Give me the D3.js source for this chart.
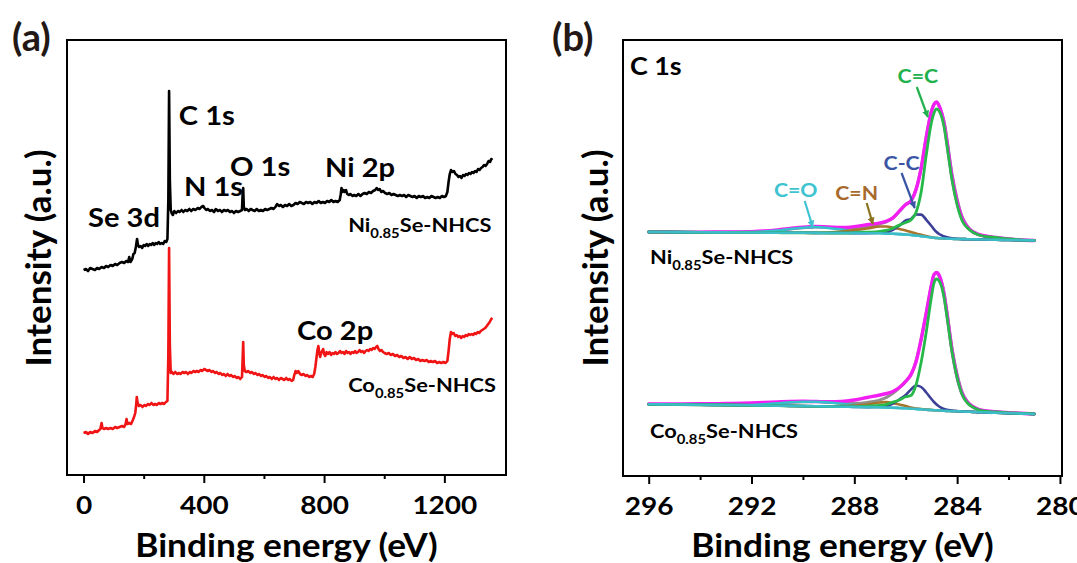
<!DOCTYPE html>
<html>
<head>
<meta charset="utf-8">
<script src="https://cdn.jsdelivr.net/npm/d3@7"></script>
<style>
  body { margin: 0; background: #fff; }
  svg { display: block; }
  text { font-family: Lato, "Open Sans", sans-serif; font-weight: 700; }
</style>
</head>
<body>
<svg id="fig" width="1077" height="563"></svg>
<script>
// ---------- (a) XPS survey spectra: [binding energy (eV), intensity (a.u.)] ----------
const surveyNi = [[0,205],[8,206],[15,204],[22,207],[30,206],[38,205],[45,207],[52,206],[60,208],[68,207],[75,209],[82,208],[90,210],[97,209],[105,211],[112,210],[120,212],[128,213],[135,212],[142,214],[148,213],[152,218],[156,213],[162,216],[166,221],[170,222],[174,228],[178,236],[181,230],[185,228],[190,229],[195,227],[200,230],[205,229],[210,231],[215,229],[220,231],[225,230],[230,232],[235,230],[240,232],[245,231],[250,233],[255,231],[260,232],[265,231],[270,234],[275,233],[279,236],[282,275],[284.5,384],[287,295],[290,265],[293,262],[297,260],[302,264],[308,262],[314,264],[320,263],[326,265],[332,263],[338,265],[345,264],[352,266],[358,264],[365,266],[372,265],[380,267],[386,266],[392,268],[398,269],[402,267],[408,265],[414,266],[420,264],[427,265],[434,263],[440,266],[447,264],[454,265],[460,263],[467,265],[474,264],[480,265],[487,263],[494,264],[500,262],[507,264],[514,263],[521,264],[527,265],[529,280],[531,287],[533,268],[537,265],[543,266],[549,264],[556,266],[562,265],[569,264],[576,266],[583,264],[590,265],[597,264],[604,266],[611,265],[618,266],[625,267],[632,266],[638,268],[644,271],[650,269],[656,270],[663,268],[670,270],[677,269],[684,271],[691,269],[698,270],[705,272],[712,271],[719,273],[726,272],[733,271],[740,273],[747,272],[754,273],[761,271],[768,273],[775,272],[782,274],[789,272],[796,273],[803,272],[810,274],[817,273],[824,275],[831,273],[838,274],[845,273],[852,275],[855,280],[858,287],[861,283],[865,285],[869,283],[873,285],[877,281],[882,280],[888,281],[894,279],[900,280],[907,279],[914,281],[921,279],[928,281],[935,282],[942,281],[949,283],[956,282],[963,284],[970,285],[975,287],[980,285],[985,286],[990,283],[996,284],[1003,282],[1010,281],[1017,282],[1024,280],[1031,281],[1038,280],[1045,279],[1052,280],[1059,279],[1066,280],[1073,278],[1080,280],[1087,279],[1094,278],[1101,279],[1108,277],[1115,279],[1122,278],[1129,279],[1136,277],[1143,278],[1150,277],[1157,279],[1164,278],[1171,277],[1178,278],[1185,277],[1192,279],[1199,278],[1205,279],[1210,283],[1214,293],[1218,301],[1222,305],[1227,303],[1232,304],[1237,301],[1242,300],[1247,298],[1252,299],[1257,297],[1262,300],[1267,299],[1272,301],[1277,300],[1282,302],[1287,301],[1292,303],[1297,302],[1302,304],[1307,303],[1312,306],[1317,305],[1322,307],[1327,308],[1332,310],[1337,309],[1342,311],[1347,314],[1352,313],[1356,316],[1360,315]];

const surveyCo = [[0,42],[8,43],[15,41],[22,43],[30,42],[38,44],[45,43],[52,45],[56,46],[60,52],[63,47],[68,46],[75,47],[82,46],[90,47],[97,46],[105,48],[112,47],[120,48],[128,49],[135,48],[140,51],[143,56],[146,51],[152,52],[158,51],[164,55],[168,58],[172,62],[175,70],[177,78],[180,72],[184,69],[190,70],[196,68],[202,70],[208,69],[214,71],[220,70],[226,72],[232,70],[238,71],[244,70],[250,72],[256,71],[262,72],[268,71],[274,73],[279,74],[282,120],[284.5,227],[287,130],[290,102],[294,103],[299,101],[305,103],[311,101],[317,102],[323,101],[329,103],[335,102],[341,103],[347,101],[353,103],[359,102],[365,104],[371,103],[377,104],[383,103],[389,105],[395,104],[401,106],[407,105],[413,104],[419,105],[425,103],[431,104],[437,102],[443,103],[449,101],[455,102],[461,100],[467,101],[473,99],[479,101],[485,99],[491,100],[497,98],[503,99],[509,97],[515,98],[521,96],[527,98],[529,115],[531,133],[533,110],[536,104],[542,103],[548,104],[554,102],[560,103],[566,101],[572,102],[578,100],[584,101],[590,99],[596,100],[602,98],[608,99],[614,97],[620,98],[626,96],[632,98],[638,96],[644,97],[650,95],[656,97],[662,96],[668,95],[674,97],[680,95],[686,96],[692,94],[697,95],[701,100],[705,104],[709,102],[714,104],[720,101],[726,100],[732,101],[738,99],[744,100],[750,98],[756,99],[762,98],[767,101],[771,108],[775,118],[778,125],[781,129],[784,122],[787,118],[790,122],[794,124],[797,126],[800,121],[804,119],[808,123],[813,121],[818,123],[823,120],[828,122],[833,121],[838,123],[843,121],[848,122],[853,124],[858,122],[863,123],[868,121],[873,124],[878,122],[883,123],[888,121],[893,123],[898,122],[903,124],[908,122],[913,123],[918,125],[923,123],[928,124],[933,122],[938,124],[943,125],[948,124],[953,126],[958,125],[963,127],[968,126],[973,128],[977,129],[981,126],[986,124],[991,125],[996,123],[1001,122],[1008,121],[1015,122],[1022,120],[1029,121],[1036,119],[1043,120],[1050,118],[1057,119],[1064,117],[1071,118],[1078,116],[1085,118],[1092,116],[1099,117],[1106,115],[1113,116],[1120,114],[1127,115],[1134,114],[1141,115],[1148,113],[1155,114],[1162,113],[1169,114],[1176,112],[1183,113],[1190,112],[1197,113],[1204,112],[1210,114],[1214,124],[1218,136],[1222,143],[1226,141],[1231,142],[1236,139],[1241,140],[1246,138],[1251,139],[1256,137],[1261,139],[1266,138],[1271,140],[1276,139],[1281,141],[1286,140],[1291,141],[1296,140],[1301,142],[1306,141],[1311,143],[1316,142],[1321,144],[1326,145],[1331,146],[1336,147],[1341,149],[1346,151],[1351,153],[1356,156],[1360,157]];

// peak assignments: [text, binding energy, intensity]
const surveyPeakLabels = [
  ["C 1s", 317, 350], ["Se 3d", 15, 248], ["N 1s", 334, 279],
  ["O 1s", 487, 299], ["Ni 2p", 803, 298], ["Co 2p", 710, 135]
];
const surveySampleLabels = [["Ni", 880, 243], ["Co", 880, 83]];
const surveyMajorTicks = [0, 400, 800, 1200];
const surveyMinorTicks = [200, 600, 1000];

// ---------- (b) C 1s high-resolution spectra ----------
const c1sEnergy = [296,295,294,293,292,291.5,291,290.5,290,289.5,289,288.5,288,287.5,287,286.75,286.5,286.25,286,285.8,285.6,285.4,285.2,285.0,284.9,284.8,284.7,284.6,284.5,284.4,284.2,284.0,283.8,283.6,283.4,283.2,283.0,282.5,282,281.5,281];

// Ni0.85Se-NHCS: background (absolute) and peak heights above it
const niBackground = [244,243.9,243.7,243.6,243.5,243.4,243.3,243.2,243.2,243.1,243,243,242.9,242.8,242.7,242.4,242.2,241.9,241.5,241,240.5,239.9,239.2,238.5,238.2,238,237.8,237.7,237.5,237.4,237.2,237,236.9,236.8,236.7,236.6,236.5,236.3,236,235.8,235.5];
const niRaw   = [0,0,0.2,0.4,0.9,1.6,2.8,4.3,5.7,6.5,6,5.5,6.5,8.5,10.5,12.5,16,23,30,34,46,68,100,126,133.5,136,132.5,125,114,97,62,37,20.5,12.2,7.8,5.4,4,2.2,1,0.2,0];
const niFit   = [0,0,0.1,0.2,0.5,1.1,2.2,3.8,5,5.9,5.5,5,5.5,6.6,9.6,11.8,15.8,22.6,30,34.5,46,68,100,126.5,133.5,135.5,132,125,116,100,65,40,22,13,7.5,5,3.6,2.2,1,0.3,0];
const niCeqC  = [0,0,0,0,0,0,0,0,0,0,0,0,0.3,1,2,3.2,5.5,9,12,15,23,44,82,115,124.8,129,127.2,121.3,110.5,93.6,58.8,34,18.1,11.2,7.3,4.9,3.5,2.2,1,0.3,0];
const niCC    = [0,0,0,0,0,0,0,0,0,0,0,0,0,0,0.5,1.5,4,8.5,14,16,21,21.5,17,11.5,8.5,6,4.2,3,2,1.3,0.5,0.2,0,0,0,0,0,0,0,0,0];
const niCeqN  = [0,0,0,0,0,0,0,0,0,0,0.5,1.5,3.1,4.7,6.8,7.1,6.3,5.1,4,3,2,1.3,0.7,0.3,0,0,0,0,0,0,0,0,0,0,0,0,0,0,0,0,0];
const niCeqO  = [0,0,0.1,0.2,0.5,1.1,2.2,3.8,5,5.9,5,3.5,2.1,0.9,0.3,0,0,0,0,0,0,0,0,0,0,0,0,0,0,0,0,0,0,0,0,0,0,0,0,0,0];

// Co0.85Se-NHCS
const coBackground = [71.7,71.5,71.2,71,70.7,70.5,70.3,70.1,69.9,69.7,69.5,69.3,69.1,68.9,68.7,68.5,68.3,68,67.7,67.4,67,66.7,66.3,66,65.8,65.7,65.5,65.4,65.2,65.1,64.9,64.7,64.5,64.3,64.1,63.9,63.7,63.3,62.8,62.4,62];
const coRaw   = [0.3,0.5,1,1.5,2.3,3,3.7,4.4,4.8,4.8,4.7,5.2,6.9,9.6,12.3,14,16.2,20.5,27,34,47,70,97,125,135.5,137.8,135.5,127.6,114.8,97.9,61.1,34.3,17.5,9.7,5.4,3.1,1.8,0.9,0.5,0.3,0];
const coFit   = [0,0,0,0.1,0.3,1.2,2.4,3.6,4.3,4.7,4.2,3.6,3.6,4.7,7.4,10.2,14.4,20,27,33.5,48,70,97,125,135.5,137.5,134,128,117,100,63,37,19,10,5.5,3,1.5,0.8,0.4,0.2,0];
const coCeqC  = [0,0,0,0,0,0,0,0,0,0,0,0,0.3,1,2,3.2,5.5,8,11.5,13,24,47,78,113,127.2,131.3,129.5,123.6,111.8,94.9,59.1,33.3,16.5,8.7,4.9,2.6,1.3,0.7,0.4,0.2,0];
const coCC    = [0,0,0,0,0,0,0,0,0,0,0,0,0,0,0.3,1.5,4.2,8.5,13.3,19,23.5,22.3,17.2,11,8.2,5.8,4,2.6,1.8,1.1,0.6,0.3,0,0,0,0,0,0,0,0,0];
const coCeqN  = [0,0,0,0,0,0,0,0,0,0,0.2,0.7,1.4,2.6,4.8,5.5,4.7,3.5,2.3,1.1,0.5,0.3,0.1,0,0,0,0,0,0,0,0,0,0,0,0,0,0,0,0,0,0];
const coCeqO  = [0,0,0,0.1,0.3,1.2,2.4,3.6,4.3,4.5,4,2.9,1.9,1.1,0.3,0,0,0,0,0,0,0,0,0,0,0,0,0,0,0,0,0,0,0,0,0,0,0,0,0,0];

// component annotations: label (E, I), arrow tail (E, I), arrow tip (E, I)
const c1sAnnotations = [
  { text: "C=C", color: "#22b14c", label: [285.53, 393], tail: [285.57, 389], tip: [285.14, 359] },
  { text: "C-C", color: "#3a55a4", label: [286.16, 306], tail: [286.16, 303], tip: [285.65, 268] },
  { text: "C=N", color: "#a86a2c", arrow: "#8a7420", label: [287.91, 276], tail: [287.52, 273], tip: [287.28, 252] },
  { text: "C=O", color: "#3ec3d0", label: [290.28, 279], tail: [289.93, 275], tip: [289.62, 249] }
];
const c1sSampleLabels = [["Ni", 295.95, 212], ["Co", 295.95, 38]];
const c1sMajorTicks = [296, 292, 288, 284, 280];
const c1sMinorTicks = [294, 290, 286, 282];

// ---------- drawing ----------
const SX = 1.12;   // horizontal widening of the lettering
const svg = d3.select("#fig");

function addText(g, x, y, parts, size, fill, anchor) {
  const t = g.append("text")
    .attr("transform", `translate(${x},${y}) scale(${SX},1)`)
    .attr("font-size", size).attr("fill", fill || "#000")
    .attr("text-anchor", anchor || "start");
  let shifted = false;
  parts.forEach(p => {
    const isSub = Array.isArray(p);
    const s = isSub ? p[0] : p;
    const sp = t.append("tspan").text(s);
    if (isSub) { sp.attr("font-size", size * 0.68).attr("dy", size * 0.3); shifted = true; }
    else if (shifted) { sp.attr("dy", -size * 0.3); shifted = false; }
  });
  return t;
}

function sampleParts(metal) { return [metal, ["0.85"], "Se-NHCS"]; }

function frameAndAxis(g, box, x, major, minor) {
  const axisY = box.bottom;
  const ax = g.append("g").attr("transform", `translate(0,${axisY})`)
    .call(d3.axisBottom(x).tickValues(major).tickSize(8).tickFormat(d3.format("d")));
  ax.select(".domain").remove();
  ax.selectAll(".tick line").attr("stroke", "#000").attr("stroke-width", 2);
  ax.selectAll(".tick text").attr("y", 39).attr("dy", null)
    .attr("font-size", 25).attr("fill", "#000")
    .attr("font-family", "Lato, sans-serif").attr("font-weight", 700)
    .attr("transform", `scale(${SX},1)`);
  const mn = g.append("g").attr("transform", `translate(0,${axisY})`)
    .call(d3.axisBottom(x).tickValues(minor).tickSize(4).tickFormat(""));
  mn.select(".domain").remove();
  mn.selectAll(".tick line").attr("stroke", "#000").attr("stroke-width", 2);
  g.append("rect").attr("x", box.left).attr("y", box.top)
    .attr("width", box.right - box.left).attr("height", box.bottom - box.top)
    .attr("fill", "none").attr("stroke", "#000").attr("stroke-width", 2);
  const cx = (box.left + box.right) / 2;
  addText(g, cx, 557, ["Binding energy (eV)"], 31.5, "#000", "middle");
}

function yTitle(g, xBase, yMid) {
  g.append("text")
    .attr("transform", `translate(${xBase},${yMid}) rotate(-90)`)
    .attr("font-size", 35).attr("text-anchor", "middle").attr("fill", "#000")
    .text("Intensity (a.u.)");
}

// ----- panel (a) -----
const boxA = { left: 67, top: 40, right: 506, bottom: 475 };
const xA = d3.scaleLinear().domain([-55, 1405]).range([boxA.left, boxA.right]);
const yA = d3.scaleLinear().domain([0, 435]).range([boxA.bottom, boxA.top]);
const gA = svg.append("g");

const lineA = d3.line().x(d => xA(d[0])).y(d => yA(d[1]));
gA.append("path").datum(surveyCo).attr("d", lineA)
  .attr("fill", "none").attr("stroke", "#f01414").attr("stroke-width", 2.6).attr("stroke-linejoin", "round");
gA.append("path").datum(surveyNi).attr("d", lineA)
  .attr("fill", "none").attr("stroke", "#000").attr("stroke-width", 2.6).attr("stroke-linejoin", "round");

frameAndAxis(gA, boxA, xA, surveyMajorTicks, surveyMinorTicks);
yTitle(gA, 51, 258);

surveyPeakLabels.forEach(([t, e, v]) => addText(gA, xA(e), yA(v), [t], 26));
surveySampleLabels.forEach(([m, e, v]) => addText(gA, xA(e), yA(v), sampleParts(m), 19.5));

gA.append("text").attr("x", 12).attr("y", 51).attr("font-size", 38)
  .attr("font-family", "'Noto Sans CJK SC', sans-serif").attr("fill", "#231815").text("(a)");

// ----- panel (b) -----
const boxB = { left: 623, top: 40, right: 1062, bottom: 476 };
const xB = d3.scaleLinear().domain([297, 279.92]).range([boxB.left, boxB.right]);
const yB = d3.scaleLinear().domain([0, 436]).range([boxB.bottom, boxB.top]);
const gB = svg.append("g");

function drawC1s(bg, raw, fit, comps) {
  const lineB = d3.line().curve(d3.curveMonotoneX)
    .x((d, i) => xB(c1sEnergy[i])).y(d => yB(d));
  const onBg = arr => arr.map((h, i) => bg[i] + h);
  const path = (vals, color, w) => gB.append("path").datum(vals).attr("d", lineB)
    .attr("fill", "none").attr("stroke", color).attr("stroke-width", w)
    .attr("stroke-linejoin", "round").attr("stroke-linecap", "round");
  path(onBg(fit), "#8f8f8f", 3);
  path(onBg(raw), "#f21ef2", 3.4);
  path(onBg(comps.ceqo), "#33c2cc", 2.6);
  path(onBg(comps.ceqn), "#a8742c", 2.6);
  path(onBg(comps.cc), "#3b3f98", 2.6);
  path(onBg(comps.ceqc), "#27b84a", 2.8);
  path(bg, "#3bbcc6", 2.6);
}
drawC1s(niBackground, niRaw, niFit, { ceqc: niCeqC, cc: niCC, ceqn: niCeqN, ceqo: niCeqO });
drawC1s(coBackground, coRaw, coFit, { ceqc: coCeqC, cc: coCC, ceqn: coCeqN, ceqo: coCeqO });

frameAndAxis(gB, boxB, xB, c1sMajorTicks, c1sMinorTicks);
yTitle(gB, 608, 258);

const defs = svg.append("defs");
c1sAnnotations.forEach((a, k) => {
  const col = a.arrow || a.color;
  defs.append("marker").attr("id", "head" + k).attr("viewBox", "0 0 10 10")
    .attr("refX", 9).attr("refY", 5).attr("markerWidth", 3.2).attr("markerHeight", 3.2)
    .attr("orient", "auto").append("path").attr("d", "M0,0 L10,5 L0,10 z").attr("fill", col);
  gB.append("line")
    .attr("x1", xB(a.tail[0])).attr("y1", yB(a.tail[1]))
    .attr("x2", xB(a.tip[0])).attr("y2", yB(a.tip[1]))
    .attr("stroke", col).attr("stroke-width", 2.2).attr("marker-end", `url(#head${k})`);
  addText(gB, xB(a.label[0]), yB(a.label[1]), [a.text], 19, a.color, "middle");
});

addText(gB, xB(296.73), yB(401), ["C 1s"], 24);
c1sSampleLabels.forEach(([m, e, v]) => addText(gB, xB(e), yB(v), sampleParts(m), 19.5));

gB.append("text").attr("x", 552).attr("y", 51).attr("font-size", 38)
  .attr("font-family", "'Noto Sans CJK SC', sans-serif").attr("fill", "#231815").text("(b)");
</script>
</body>
</html>
